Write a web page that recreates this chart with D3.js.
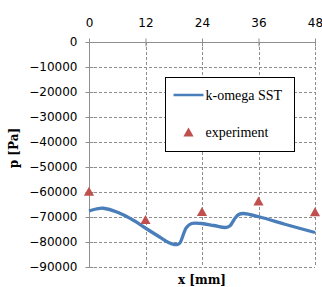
<!DOCTYPE html>
<html>
<head>
<meta charset="utf-8">
<script src="https://cdn.jsdelivr.net/npm/d3@7"></script>
<style>
  body { margin: 0; background: #fff; }
  svg { display: block; }
</style>
</head>
<body>
<div id="chart"></div>
<script>
// data
var xTicks = [0, 12, 24, 36, 48];
var yTicks = [0, -10000, -20000, -30000, -40000, -50000, -60000, -70000, -80000, -90000];

// k-omega SST curve
var simX = [0, 1.5, 3, 6.2, 9.7, 11.8, 15, 17, 18.2, 18.8, 19.3, 20.7, 21.8, 23.9, 26.5, 29, 29.9, 31, 31.8, 32.8, 36.3, 41.6, 48];
var simP = [-67600, -66800, -66500, -68200, -71600, -74200, -78000, -80300, -81000, -81000, -80400, -74200, -72600, -72600, -73400, -74200, -73600, -70500, -69000, -68600, -70000, -72900, -76200];

// experiment points
var expX = [0, 12, 24, 36, 48];
var expP = [-60300, -71600, -68400, -64200, -68500];

var seriesNames = ["k-omega SST", "experiment"];

var blue = "#4a7ebb", red = "#c0504d", grid = "#8e8e8e";

// set the dimensions and margins of the graph
var margin = {top: 42, right: 7, bottom: 20, left: 89},
    width = 322 - margin.left - margin.right,
    height = 267 - margin.top;

var svg = d3.select("#chart")
  .append("svg")
    .attr("width", 322)
    .attr("height", 287)
  .append("g")
    .attr("transform", "translate(" + margin.left + "," + margin.top + ")");

var x = d3.scaleLinear().domain([0, 48]).range([0, width]);
var y = d3.scaleLinear().domain([0, -90000]).range([0, height]);

// dashed grid
svg.append("g")
  .selectAll("line")
  .data(yTicks.slice(1))
  .enter().append("line")
    .attr("x1", 0).attr("x2", width)
    .attr("y1", function(d) { return Math.round(y(d)) + 0.5; })
    .attr("y2", function(d) { return Math.round(y(d)) + 0.5; })
    .attr("stroke", grid)
    .attr("stroke-dasharray", "3,2");

svg.append("g")
  .selectAll("line")
  .data(xTicks.slice(1))
  .enter().append("line")
    .attr("x1", function(d) { return Math.round(x(d)) + 0.5; })
    .attr("x2", function(d) { return Math.round(x(d)) + 0.5; })
    .attr("y1", 0).attr("y2", height)
    .attr("stroke", grid)
    .attr("stroke-dasharray", "3,2");

// Y axis (left), ticks crossing the line
var yAxis = svg.append("g")
  .attr("transform", "translate(0.5,0)")
  .call(d3.axisLeft(y).tickValues(yTicks).tickSize(4).tickPadding(8).tickFormat(d3.format("d")));
yAxis.select(".domain").attr("stroke", grid).attr("d", "M0,0V" + height);
yAxis.selectAll(".tick line").attr("stroke", grid).attr("x1", 4);
yAxis.selectAll(".tick text")
  .style("font-family", "DejaVu Sans")
  .style("font-size", "12px")
  .attr("fill", "#000");

// X axis on top
var xAxis = svg.append("g")
  .attr("transform", "translate(0,0.5)")
  .call(d3.axisTop(x).tickValues(xTicks).tickSize(4).tickPadding(12));
xAxis.select(".domain").attr("stroke", grid).attr("d", "M0,0H" + width);
xAxis.selectAll(".tick line").attr("stroke", grid).attr("y1", 4);
xAxis.selectAll(".tick text")
  .style("font-family", "DejaVu Sans")
  .style("font-size", "12px")
  .attr("fill", "#000");

// simulated line
var simData = simX.map(function(d, i) { return [d, simP[i]]; });
svg.append("path")
  .datum(simData)
  .attr("fill", "none")
  .attr("stroke", blue)
  .attr("stroke-width", 3.3)
  .attr("stroke-linejoin", "round")
  .attr("d", d3.line()
    .x(function(d) { return x(d[0]); })
    .y(function(d) { return y(d[1]); })
    .curve(d3.curveCatmullRom.alpha(0.5)));

// experiment triangles
var tri = d3.symbol().type(d3.symbolTriangle).size(45);
svg.append("g")
  .selectAll("path")
  .data(expX)
  .enter().append("path")
    .attr("d", tri)
    .attr("transform", function(d, i) { return "translate(" + x(d) + "," + y(expP[i]) + ")"; })
    .attr("fill", red);

// legend
var lg = svg.append("g").attr("transform", "translate(" + (165.5 - margin.left) + "," + (77.5 - margin.top) + ")");
lg.append("rect")
  .attr("width", 129).attr("height", 74)
  .attr("fill", "#fff").attr("stroke", "#000");
lg.append("line")
  .attr("x1", 8).attr("x2", 38).attr("y1", 17.5).attr("y2", 17.5)
  .attr("stroke", blue).attr("stroke-width", 2.5);
lg.append("path")
  .attr("d", tri)
  .attr("transform", "translate(23,56)")
  .attr("fill", red);
lg.selectAll("text")
  .data(seriesNames)
  .enter().append("text")
    .attr("x", 40)
    .attr("y", function(d, i) { return i ? 59.5 : 22; })
    .style("font-family", "Liberation Serif")
    .style("font-size", "14px")
    .text(function(d) { return d; });

// axis titles
svg.append("text")
  .attr("x", 202 - margin.left)
  .attr("y", 284 - margin.top)
  .attr("text-anchor", "middle")
  .style("font-family", "DejaVu Serif")
  .style("font-weight", "bold")
  .style("font-size", "12px")
  .text("x [mm]");

svg.append("text")
  .attr("transform", "translate(" + (18 - margin.left) + "," + (148 - margin.top) + ") rotate(-90)")
  .attr("text-anchor", "middle")
  .style("font-family", "DejaVu Serif")
  .style("font-weight", "bold")
  .style("font-size", "12px")
  .text("p [Pa]");
</script>
</body>
</html>
